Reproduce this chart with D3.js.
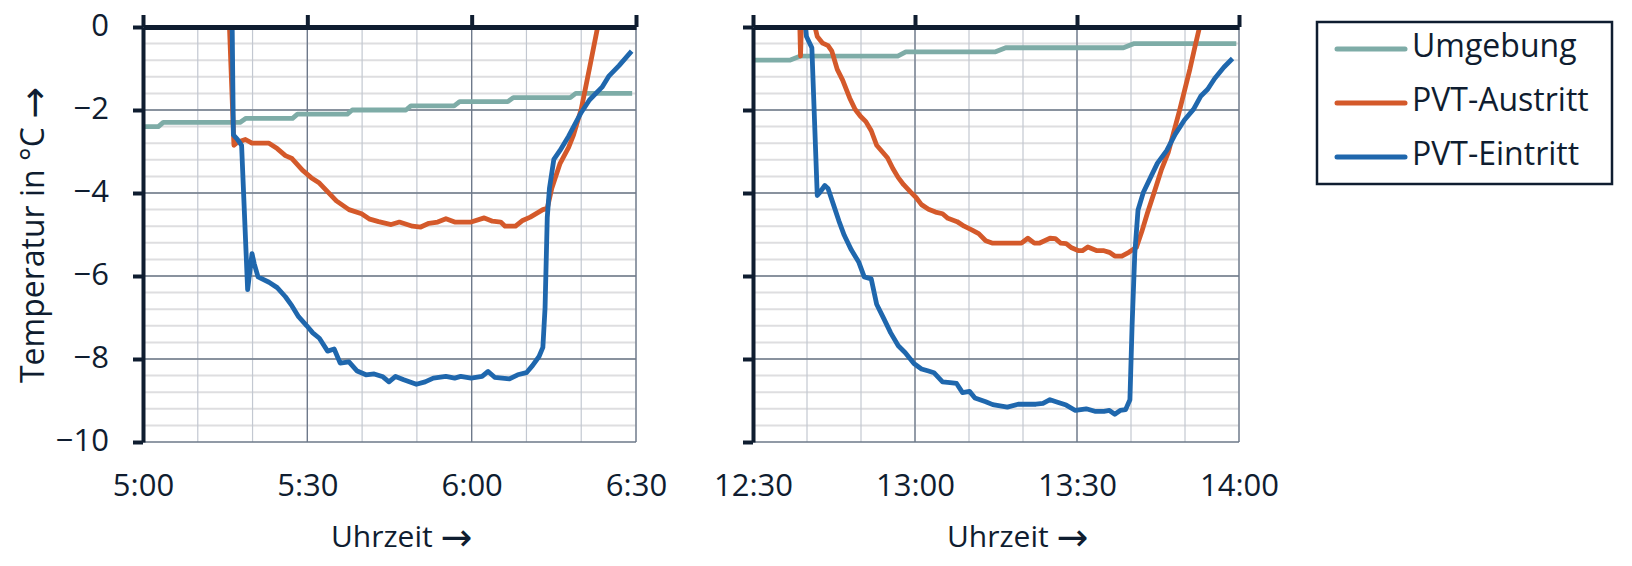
<!DOCTYPE html>
<html><head><meta charset="utf-8">
<script src="https://cdn.jsdelivr.net/npm/d3@7"></script>
<style>body{margin:0;background:#fff} svg{display:block}</style>
</head><body>
<svg id="c" width="1632" height="566"></svg>
<script>
// ---- data (time = minutes after panel start, value = °C) ----
const seriesNames  = ["Umgebung", "PVT-Austritt", "PVT-Eintritt"];
const seriesColors = ["#7eaca7", "#d4592a", "#1f67ad"];
const panelStarts  = ["05:00", "12:30"];
const yTicks       = [0, -2, -4, -6, -8, -10];
const yTitle = ["Temperatur in °C ", "→"];
const xTitle = ["Uhrzeit ", "→"];

const umgebungL = [[0,-2.4],[2.8,-2.4],[3.7,-2.3],[17.7,-2.3],[18.8,-2.2],[27.3,-2.2],[28.2,-2.1],[37.3,-2.1],[38.2,-2.0],[48.0,-2.0],[48.9,-1.9],[56.8,-1.9],[57.8,-1.8],[66.6,-1.8],[67.6,-1.7],[78.0,-1.7],[79.0,-1.6],[89.3,-1.6]];
const austrittL = [[15.5,1.0],[16.6,-2.85],[17.2,-2.78],[18.7,-2.71],[19.9,-2.8],[23,-2.8],[24.5,-2.93],[26,-3.1],[27.2,-3.17],[29.1,-3.45],[30.7,-3.63],[32.2,-3.76],[35.3,-4.19],[37.6,-4.4],[39.9,-4.5],[41.4,-4.63],[43,-4.69],[45.3,-4.76],[46.8,-4.7],[49.2,-4.8],[50.7,-4.82],[52.2,-4.73],[53.8,-4.7],[55.3,-4.62],[56.9,-4.7],[59.9,-4.7],[62.3,-4.6],[63.8,-4.68],[65.3,-4.7],[66.1,-4.8],[68,-4.8],[69.2,-4.67],[70.7,-4.58],[73,-4.4],[73.8,-4.37],[74.6,-3.9],[76.1,-3.3],[77.7,-2.9],[78.6,-2.6],[80,-1.98],[81.5,-1.0],[83,0],[83.5,0.4]];
const eintrittL = [[16.2,1.0],[16.5,-2.6],[17.2,-2.7],[18.0,-2.85],[19.1,-6.33],[19.9,-5.46],[20.3,-5.7],[21,-6.02],[23,-6.15],[24.5,-6.28],[26,-6.5],[27.2,-6.72],[28.4,-6.98],[29.9,-7.2],[31,-7.37],[32.2,-7.5],[33.7,-7.81],[34.9,-7.76],[36,-8.1],[37.6,-8.07],[39.1,-8.29],[40.7,-8.38],[42.2,-8.36],[43.8,-8.43],[44.9,-8.55],[46.1,-8.42],[47.6,-8.5],[49.9,-8.61],[51.5,-8.55],[53,-8.46],[55.3,-8.42],[56.9,-8.46],[58,-8.42],[59.9,-8.46],[61.9,-8.42],[63,-8.3],[64.2,-8.44],[66.9,-8.48],[68.4,-8.38],[70,-8.33],[71.1,-8.16],[72.3,-7.94],[73,-7.72],[73.4,-6.76],[73.8,-4.59],[74.2,-3.89],[75,-3.19],[76.1,-2.98],[77.7,-2.63],[80,-2.06],[81.5,-1.76],[83.8,-1.45],[85,-1.19],[86.9,-0.93],[89.2,-0.58]];

const umgebungR = [[0,-0.8],[6.8,-0.8],[8.8,-0.7],[26.8,-0.7],[28.3,-0.6],[44.8,-0.6],[46.8,-0.5],[68.6,-0.5],[70.6,-0.4],[89.5,-0.4]];
const austrittR = [[8.4,1.5],[8.8,-0.7],[9.3,1.5],[11.0,1.5],[11.3,0.1],[11.9,-0.23],[12.9,-0.39],[13.9,-0.45],[14.6,-0.58],[15.6,-1.02],[16.6,-1.28],[17.9,-1.71],[18.9,-1.98],[19.9,-2.15],[20.9,-2.28],[21.9,-2.5],[22.9,-2.85],[23.9,-3.0],[24.9,-3.15],[25.9,-3.41],[26.9,-3.63],[27.9,-3.8],[29.2,-3.98],[30.2,-4.11],[31.2,-4.28],[32.5,-4.39],[33.8,-4.46],[35.1,-4.5],[36.1,-4.61],[37.8,-4.69],[39.1,-4.8],[40.5,-4.89],[41.8,-4.98],[43.1,-5.15],[44.4,-5.21],[49.7,-5.21],[50.9,-5.09],[52.1,-5.21],[53,-5.21],[55,-5.09],[56,-5.1],[57,-5.21],[58,-5.22],[59,-5.32],[60.3,-5.39],[61,-5.39],[62,-5.3],[63.7,-5.39],[65,-5.39],[66,-5.43],[67,-5.52],[68.3,-5.52],[69.6,-5.43],[71,-5.31],[72,-4.93],[73,-4.5],[74.3,-3.98],[75.6,-3.45],[76.9,-3.02],[77.9,-2.54],[78.9,-2.06],[79.9,-1.54],[80.9,-1.02],[81.8,-0.5],[82.7,0],[83.2,0.4]];
const eintrittR = [[9.4,0.5],[9.9,-0.23],[10.9,-0.5],[11.9,-4.06],[12.3,-4.0],[13.3,-3.82],[13.9,-3.89],[14.9,-4.28],[15.9,-4.67],[16.9,-5.02],[18.2,-5.37],[19.6,-5.67],[20.6,-6.02],[21.9,-6.07],[22.9,-6.68],[24.2,-7.02],[25.5,-7.37],[26.9,-7.68],[28.2,-7.85],[29.8,-8.11],[31.2,-8.24],[32.5,-8.29],[33.5,-8.33],[35.1,-8.55],[36.5,-8.57],[37.7,-8.59],[38.8,-8.81],[40.1,-8.78],[41.1,-8.94],[43.1,-9.03],[44.4,-9.1],[47.1,-9.16],[49.1,-9.09],[52.4,-9.09],[53.7,-9.07],[55,-8.98],[56.4,-9.04],[58,-9.11],[59.7,-9.24],[61.7,-9.2],[63.3,-9.26],[65,-9.26],[66,-9.24],[67,-9.33],[68,-9.24],[69,-9.22],[69.8,-8.98],[70.2,-7.2],[70.7,-5.46],[71.3,-4.41],[72.3,-3.98],[73.6,-3.63],[74.9,-3.28],[76.6,-2.98],[78.2,-2.58],[79.9,-2.24],[81.6,-1.98],[82.9,-1.67],[84.2,-1.5],[85.5,-1.24],[87.2,-0.97],[88.8,-0.76]];

// ---- drawing ----
const svg = d3.select("#c");
const FONT = "'Open Sans', 'Liberation Sans', sans-serif";
const ARROW_FONT = "'DejaVu Sans', sans-serif";
const INK = "#0f1d30";
const TOP = 27, BOTTOM = 442;
const panels = [
  {start: panelStarts[0], data: [umgebungL, austrittL, eintrittL], x0: 143, x1: 636, labels: true,  titleX: 331},
  {start: panelStarts[1], data: [umgebungR, austrittR, eintrittR], x0: 753, x1: 1239, labels: false, titleX: 947}
];
const y = d3.scaleLinear().domain([-10, 0]).range([BOTTOM, TOP]);
const parse = d3.timeParse("%H:%M");
const fmt = d3.timeFormat("%-H:%M");

function titleText(sel, parts, size) {
  sel.append("tspan").text(parts[0]);
  sel.append("tspan").attr("font-family", ARROW_FONT).attr("font-size", size)
    .attr("dy", 3).text(parts[1]);
}

panels.forEach((p, pi) => {
  const t0 = parse(p.start);
  const t1 = d3.timeMinute.offset(t0, 90);
  const x = d3.scaleTime().domain([t0, t1]).range([p.x0, p.x1]);
  const g = svg.append("g");

  // minor horizontal grid (0.4 °C)
  g.append("g").selectAll("line").data(d3.range(1, 25).map(k => -k * 0.4)).join("line")
    .attr("x1", p.x0).attr("x2", p.x1).attr("y1", d => y(d)).attr("y2", d => y(d))
    .attr("stroke", "#dedee0").attr("stroke-width", 2);
  // minor vertical grid (10 min)
  g.append("g").selectAll("line").data(x.ticks(d3.timeMinute.every(10))).join("line")
    .attr("x1", d => x(d)).attr("x2", d => x(d)).attr("y1", TOP).attr("y2", BOTTOM)
    .attr("stroke", "#c3c8d1").attr("stroke-width", 1.2);
  // major grid
  g.append("g").selectAll("line").data(yTicks.filter(v => v !== 0)).join("line")
    .attr("x1", p.x0).attr("x2", p.x1).attr("y1", d => y(d)).attr("y2", d => y(d))
    .attr("stroke", "#6d7889").attr("stroke-width", 1.3);
  g.append("g").selectAll("line").data(x.ticks(d3.timeMinute.every(30))).join("line")
    .attr("x1", d => x(d)).attr("x2", d => x(d)).attr("y1", TOP).attr("y2", BOTTOM)
    .attr("stroke", "#6d7889").attr("stroke-width", 1.3);

  // clip
  const cid = "clip" + pi;
  svg.append("clipPath").attr("id", cid).append("rect")
    .attr("x", p.x0).attr("y", TOP).attr("width", p.x1 - p.x0).attr("height", BOTTOM - TOP);

  const line = d3.line()
    .x(d => x(d3.timeSecond.offset(t0, Math.round(d[0] * 60))))
    .y(d => y(d[1]));
  g.append("g").attr("clip-path", `url(#${cid})`)
    .selectAll("path").data(p.data).join("path")
    .attr("d", line).attr("fill", "none")
    .attr("stroke", (d, i) => seriesColors[i]).attr("stroke-width", 4.8)
    .attr("stroke-linejoin", "round").attr("stroke-linecap", "butt");

  // y axis
  const ya = g.append("g").attr("transform", `translate(${p.x0},0)`)
    .call(d3.axisLeft(y).tickValues(yTicks).tickSize(10).tickSizeOuter(0).tickPadding(24)
      .tickFormat(p.labels ? d3.format("d") : () => ""));
  ya.select(".domain").attr("stroke", INK).attr("stroke-width", 4);
  ya.selectAll(".tick line").attr("stroke", INK).attr("stroke-width", 4);
  ya.selectAll(".tick text").attr("dy", null).attr("y", 8)
    .attr("font-family", FONT).attr("font-size", 31).attr("fill", INK);

  // top axis
  const ta = g.append("g").attr("transform", `translate(0,${TOP})`)
    .call(d3.axisTop(x).ticks(d3.timeMinute.every(30)).tickSize(12).tickSizeOuter(0).tickFormat(() => ""));
  ta.select(".domain").attr("stroke", INK).attr("stroke-width", 5);
  ta.selectAll(".tick line").attr("stroke", INK).attr("stroke-width", 4);

  // bottom labels
  const ba = g.append("g").attr("transform", `translate(0,${BOTTOM})`)
    .call(d3.axisBottom(x).ticks(d3.timeMinute.every(30)).tickSize(0).tickFormat(fmt));
  ba.select(".domain").remove();
  ba.selectAll(".tick text").attr("dy", null).attr("y", 54)
    .attr("font-family", FONT).attr("font-size", 31).attr("fill", INK);

  // x title
  g.append("text").attr("x", p.titleX).attr("y", 547)
    .attr("font-family", FONT).attr("font-size", 30).attr("fill", INK)
    .call(titleText, xTitle, 38);
});

// y title
svg.append("text").attr("transform", "translate(44,235) rotate(-90)")
  .attr("text-anchor", "middle").attr("font-family", FONT).attr("font-size", 32)
  .attr("fill", INK).call(titleText, yTitle, 38);

// legend
const lg = svg.append("g");
lg.append("rect").attr("x", 1317).attr("y", 22).attr("width", 295).attr("height", 162)
  .attr("fill", "#fff").attr("stroke", INK).attr("stroke-width", 2.5);
const rows = lg.selectAll("g.row").data(seriesNames).join("g").attr("class", "row")
  .attr("transform", (d, i) => `translate(0,${49 + i * 54})`);
rows.append("line").attr("x1", 1337).attr("x2", 1405).attr("y1", 0).attr("y2", 0)
  .attr("stroke", (d, i) => seriesColors[i]).attr("stroke-width", 5).attr("stroke-linecap", "round");
rows.append("text").attr("x", 1412).attr("y", 7.5)
  .attr("font-family", FONT).attr("font-size", 32).attr("fill", INK).text(d => d);
</script>
</body></html>
